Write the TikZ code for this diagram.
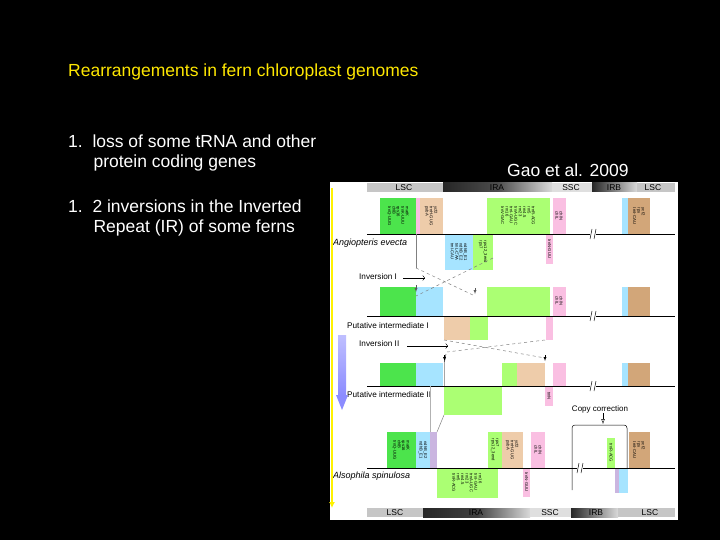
\documentclass[tikz,border=0pt]{standalone}
\usepackage{fontspec}
\setmainfont{Liberation Sans}
\usetikzlibrary{arrows.meta}
\begin{document}
\begin{tikzpicture}[x=1pt,y=-1pt,
  gg/.style={fill=green!85!black!70!white,draw=none},
  lg/.style={fill=green!60!yellow!55,draw=none},
  tn/.style={fill=orange!35!brown!40!white,draw=none},
  pk/.style={fill=magenta!25,draw=none},
  bl/.style={fill=blue!30!cyan!35,draw=none},
  br/.style={fill=brown!70!white,draw=none},
  gl/.style={font=\fontsize{4.2}{4.4}\selectfont,rotate=-90,align=left,inner sep=0pt},
  gline/.style={black,line width=0.8pt},
  spn/.style={font=\itshape\fontsize{9}{10}\selectfont,anchor=west,inner sep=0pt},
  itn/.style={font=\fontsize{8.2}{9}\selectfont,anchor=west,inner sep=0pt},
  reg/.style={font=\fontsize{8.5}{9}\selectfont,inner sep=0pt},
  wt/.style={white,font=\fontsize{17.5}{20.5}\selectfont,anchor=west,align=left,inner sep=0pt}]
\useasboundingbox (0,0) rectangle (720,540);
\fill[black] (0,0) rectangle (720,540);
% texts
\node[anchor=west,inner sep=0pt,text=yellow!90!orange,font=\fontsize{17.5}{20}\selectfont] (title) at (68,72) {Rearrangements in fern chloroplast genomes};
\node[wt] (l1) at (68,153) {1.\ \ loss of some tRNA and other\\\hspace{1.45em}protein coding genes};
\node[wt] (l2) at (68,218) {1.\ \ 2 inversions in the Inverted\\\hspace{1.45em}Repeat (IR) of some ferns};
\node[wt] (gao) at (507,170) {Gao et al. 2009};
% figure panel
\fill[white] (330,182) rectangle (678,520);
% top bar
\fill[gray!45] (367,183) rectangle (443,192);
\shade[left color=black!85,right color=gray!30,middle color=black!70] (443,183) rectangle (552,192);
\fill[gray!25] (552,183) rectangle (592,192);
\shade[left color=black!85,right color=gray!30] (592,183) rectangle (637,192);
\fill[gray!45] (637,183) rectangle (675,192);
\node[reg] (t1) at (404,188) {LSC};\node[reg] (t2) at (497,188) {IRA};
\node[reg] (t3) at (571,188) {SSC};\node[reg] (t4) at (614,188) {IRB};\node[reg] (t5) at (653,188) {LSC};
% bottom bar
\fill[gray!45] (367,508) rectangle (423,517);
\shade[left color=black!85,right color=gray!30,middle color=black!75] (423,508) rectangle (530,517);
\fill[gray!25] (530,508) rectangle (571,517);
\shade[left color=black!85,right color=gray!30] (571,508) rectangle (618,517);
\fill[gray!45] (618,508) rectangle (675,517);
\node[reg] (b1) at (395,513) {LSC};\node[reg] (b2) at (476,513) {IRA};
\node[reg] (b3) at (550,513) {SSC};\node[reg] (b4) at (596,513) {IRB};\node[reg] (b5) at (650,513) {LSC};
% ---- Angiopteris evecta
\fill[gg] (380,198) rectangle (416,234); \node[gl] (g1) at (398,216) {matK\\trnK-UUU\\rps16\\chlB\\trnQ-UUG};
\fill[tn] (416,198) rectangle (443,234); \fill[pk] (416,198) rectangle (420,234);
\node[gl] (g2) at (431,216) {ycf2\\trnH-GUG\\psbA};
\fill[lg] (487,198) rectangle (550,234); \node[gl] (g3) at (518,216) {trnR-ACG\\rrn5\\rrn4.5\\rrn23\\trnA-UGC\\trnI-GAU\\rrn16\\trnV-GAC};
\fill[pk] (553,198) rectangle (566,234); \node[gl] (g4) at (559,216) {chlN\\chlL};
\fill[bl] (622,198) rectangle (628,234);
\fill[br] (628,198) rectangle (650,234); \node[gl] (g5) at (639,216) {ycf2\\rps\\trnI-CAU};
\fill[bl] (445,234) rectangle (473,270); \node[gl] (g6) at (459,252) {ndhB\_E1\\ndhB\_E2\\trnL-CAA\\trnI-CAU};
\fill[lg] (473,234) rectangle (493,270); \node[gl] (g7) at (483,252) {rps12\_3end\\rps7};
\fill[pk] (546,234) rectangle (553,264); \node[gl] (g8) at (549.5,249) {trnN-GUU};
\draw[gline] (367,234) -- (675,234);
\node[spn] (sp1) at (333,243) {Angiopteris evecta};
% ---- intermediate I
\fill[gg] (380,287) rectangle (416,316);
\fill[bl] (416,287) rectangle (443,316);
\fill[lg] (487,287) rectangle (550,316);
\fill[pk] (553,287) rectangle (566,316); \node[gl] (g9) at (559,301) {chlN\\chlL};
\fill[bl] (622,287) rectangle (628,316);
\fill[br] (628,287) rectangle (650,316);
\fill[tn] (444,316) rectangle (470,340); \fill[lg] (470,316) rectangle (488,340);
\fill[pk] (546,316) rectangle (553,340);
\draw[gline] (367,316) -- (675,316);
\node[itn] (sp2) at (347,326) {Putative intermediate I};
% ---- intermediate II
\fill[gg] (380,363) rectangle (416,386);
\fill[bl] (416,363) rectangle (443,386);
\fill[lg] (502,363) rectangle (517,386);
\fill[tn] (517,363) rectangle (545,386);
\fill[pk] (553,363) rectangle (566,386);
\fill[bl] (622,363) rectangle (628,386);
\fill[br] (628,363) rectangle (650,386);
\fill[lg] (444,386) rectangle (502,415);
\fill[pk] (545,386) rectangle (553,406); \node[gl] (g10) at (549,396) {trnN};
\draw[gline] (367,386) -- (675,386);
\node[itn] (sp3) at (347,395) {Putative intermediate II};
% ---- Alsophila
\fill[gg] (387,432) rectangle (416,468); \node[gl] (g11) at (401,450) {matK\\rps16\\chlB\\trnQ-UUG};
\fill[bl] (416,432) rectangle (430,468); \node[gl] (g12) at (423,450) {ndhB\_E2\\ndhB\_E1};
\fill[magenta!20!blue!25] (430,432) rectangle (437,468);
\fill[lg] (488,432) rectangle (502,468); \node[gl] (g13) at (495,450) {rps7\\rps12\_3end};
\fill[tn] (502,432) rectangle (523,468); \node[gl] (g14) at (512,450) {ycf2\\trnH-GUG\\psbA};
\fill[pk] (531,432) rectangle (545,468); \node[gl] (g15) at (538,450) {chlN\\chlL};
\fill[lg] (607,438) rectangle (615,468); \node[gl] (g16) at (611,453) {trnR-ACG};
\fill[br] (629,432) rectangle (650,468); \node[gl] (g17) at (639,450) {ycf2\\rps\\trnI-CAU};
\fill[lg] (437,468) rectangle (498,498); \node[gl] (g18) at (467,483) {rrn16\\trnI-GAU\\trnA-UGC\\rrn23\\rrn4.5\\rrn5\\trnR-ACG};
\fill[pk] (523,468) rectangle (530,497); \node[gl] (g19) at (526.5,482) {trnN-GUU};
\fill[bl] (615,468) rectangle (628,493); \fill[magenta!20!blue!25] (615,468) rectangle (619,493);
\draw[gline] (367,468) -- (675,468);
\node[spn] (sp4) at (333,476) {Alsophila spinulosa};
% breaks
\foreach \y/\x in {234/593,316/593,386/593,468/580}{
  \fill[white] (\x-3,\y-2.5) rectangle (\x+3,\y+2.5);
  \draw[black,line width=0.5pt] (\x-3,\y+5) -- (\x-1,\y-5) (\x+1,\y+5) -- (\x+3,\y-5);}
% connectors
\coordinate (a1) at (416,234); \coordinate (a2) at (416,268);
\coordinate (a3) at (475,296); \coordinate (a4) at (493,258);
\coordinate (a5) at (416,296);
\draw[gray,line width=0.5pt] (a1) -- (a2);
\draw[gray,dashed,line width=0.5pt] (a2) -- (a3) (a4) -- (a5);
\draw[-latex,gray!70!black,line width=0.4pt] (416,285) -- (416,292);
\draw[-latex,gray!70!black,line width=0.4pt] (475,288) -- (475,294);
\node[itn] (inv1) at (359,277) {Inversion I};
\draw[->,line width=0.4pt] (403,278) -- (425,278);
\node[itn] (inv2) at (359,344) {Inversion II};
\draw[->,line width=0.4pt] (407,346) -- (448,346);
\draw[gray,dashed,line width=0.5pt] (444,340) -- (545,358) (545,340) -- (447,352);
\draw[black,line width=0.4pt] (444.5,386) -- (444.5,362) -- (446,354);
\draw[-latex,black,line width=0.4pt] (444.5,355) -- (444.5,361);
\draw[-latex,black,line width=0.4pt] (545,355) -- (545,361);
\draw[gray,line width=0.5pt] (444,415) -- (437,432);
\draw[gray!60,line width=0.4pt] (430,386) -- (430,432);
% copy correction
\node[font=\fontsize{8}{9}\selectfont,inner sep=0pt] (cc) at (600,409) {Copy correction};
\draw[-{Latex[open]}] (603,413) -- (603,424);
\draw[black,line width=0.5pt] (572,490) -- (572,428) to[out=90,in=180] (575,425) -- (624,425) to[out=0,in=90] (627,428) -- (627,468);
% side arrows
\shade[top color=blue!25,bottom color=blue!45] (338,335) rectangle (346,395);
\fill[blue!45] (336,395) -- (348,395) -- (342,410) -- cycle;
\draw[yellow,line width=1.8pt,-{Latex[length=6pt,width=6pt]}] (332,188) -- (332,508);
\end{tikzpicture}
\end{document}
